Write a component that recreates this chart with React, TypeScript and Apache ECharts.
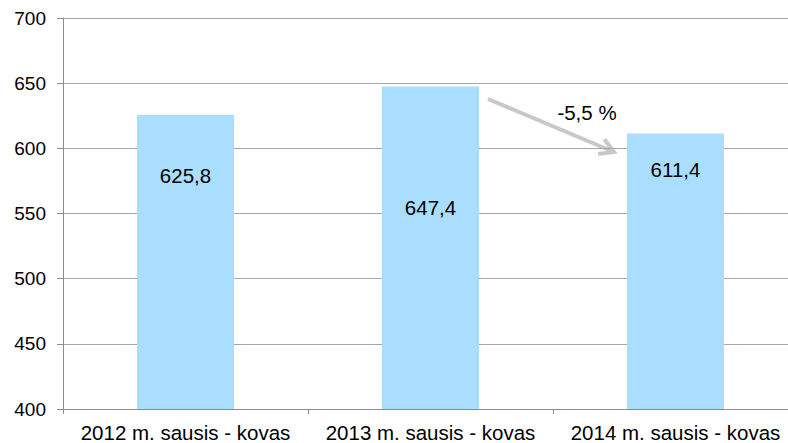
import React, { useEffect, useRef } from "react";
import * as echarts from "echarts";

const categories = ["2012 m. sausis - kovas", "2013 m. sausis - kovas", "2014 m. sausis - kovas"];
const values = [625.8, 647.4, 611.4];
const valueLabels = ["625,8", "647,4", "611,4"];
const changeLabel = "-5,5 %";
const yMin = 400;
const yMax = 700;
const yInterval = 50;

// label vertical offsets inside bars (px from bar top) — styling only
const labelOffsets = [61, 121, 36];

const FONT = "'Liberation Sans', Arial, sans-serif";

export default function App() {
  const ref = useRef<HTMLDivElement>(null);
  useEffect(() => {
    if (!ref.current) return;
    const chart = echarts.init(ref.current, undefined, { renderer: "svg" });
    const tip = [614, 152];
    const start = [488, 99];
    const dx = start[0] - tip[0];
    const dy = start[1] - tip[1];
    const len = Math.hypot(dx, dy);
    const ux = dx / len;
    const uy = dy / len;
    const rot = (a: number) => [
      tip[0] + 16 * (ux * Math.cos(a) - uy * Math.sin(a)),
      tip[1] + 16 * (ux * Math.sin(a) + uy * Math.cos(a)),
    ];
    const b1 = rot(Math.PI / 6);
    const b2 = rot(-Math.PI / 6);
    chart.setOption({
      animation: false,
      backgroundColor: "#ffffff",
      textStyle: { fontFamily: FONT },
      grid: { left: 63, right: 12, top: 18, bottom: 34 },
      xAxis: {
        type: "category",
        data: categories,
        axisLine: { show: true, lineStyle: { color: "#8c8c8c", width: 1 } },
        axisTick: { show: true, length: 5, lineStyle: { color: "#8c8c8c" } },
        axisLabel: { color: "#000", fontSize: 20.5, fontFamily: FONT, margin: 13, interval: 0 },
        splitLine: { show: false },
      },
      yAxis: {
        type: "value",
        min: yMin,
        max: yMax,
        interval: yInterval,
        axisLine: { show: true, lineStyle: { color: "#8c8c8c", width: 1 } },
        axisTick: { show: true, length: 6, lineStyle: { color: "#8c8c8c" } },
        axisLabel: { color: "#000", fontSize: 19, fontFamily: FONT, margin: 17 },
        splitLine: { show: true, lineStyle: { color: "#a6a6a6", width: 1 } },
      },
      series: [
        {
          type: "bar",
          barWidth: 97,
          itemStyle: { color: "#aadeff" },
          data: values.map((v, i) => ({
            value: v,
            label: {
              show: true,
              formatter: valueLabels[i],
              position: ["50%", labelOffsets[i]],
              align: "center",
              verticalAlign: "middle",
              color: "#000",
              fontSize: 20.5,
              fontFamily: FONT,
            },
          })),
        },
      ],
      graphic: [
        {
          type: "line",
          shape: { x1: start[0], y1: start[1], x2: tip[0], y2: tip[1] },
          style: { stroke: "#c8c8c8", lineWidth: 4 },
        },
        {
          type: "polyline",
          shape: { points: [b1, tip, b2] },
          style: { stroke: "#c8c8c8", lineWidth: 4, fill: null, lineJoin: "miter" },
        },
        {
          type: "text",
          x: 587,
          y: 112,
          style: {
            text: changeLabel,
            fill: "#000",
            font: `20.5px ${FONT}`,
            align: "center",
            verticalAlign: "middle",
          },
        },
      ],
    });
    return () => chart.dispose();
  }, []);
  return (
    <div style={{ position: "absolute", left: 0, top: 0, width: 788, height: 443, overflow: "hidden", background: "#fff" }}>
      <div ref={ref} style={{ width: 810, height: 443 }} />
    </div>
  );
}
